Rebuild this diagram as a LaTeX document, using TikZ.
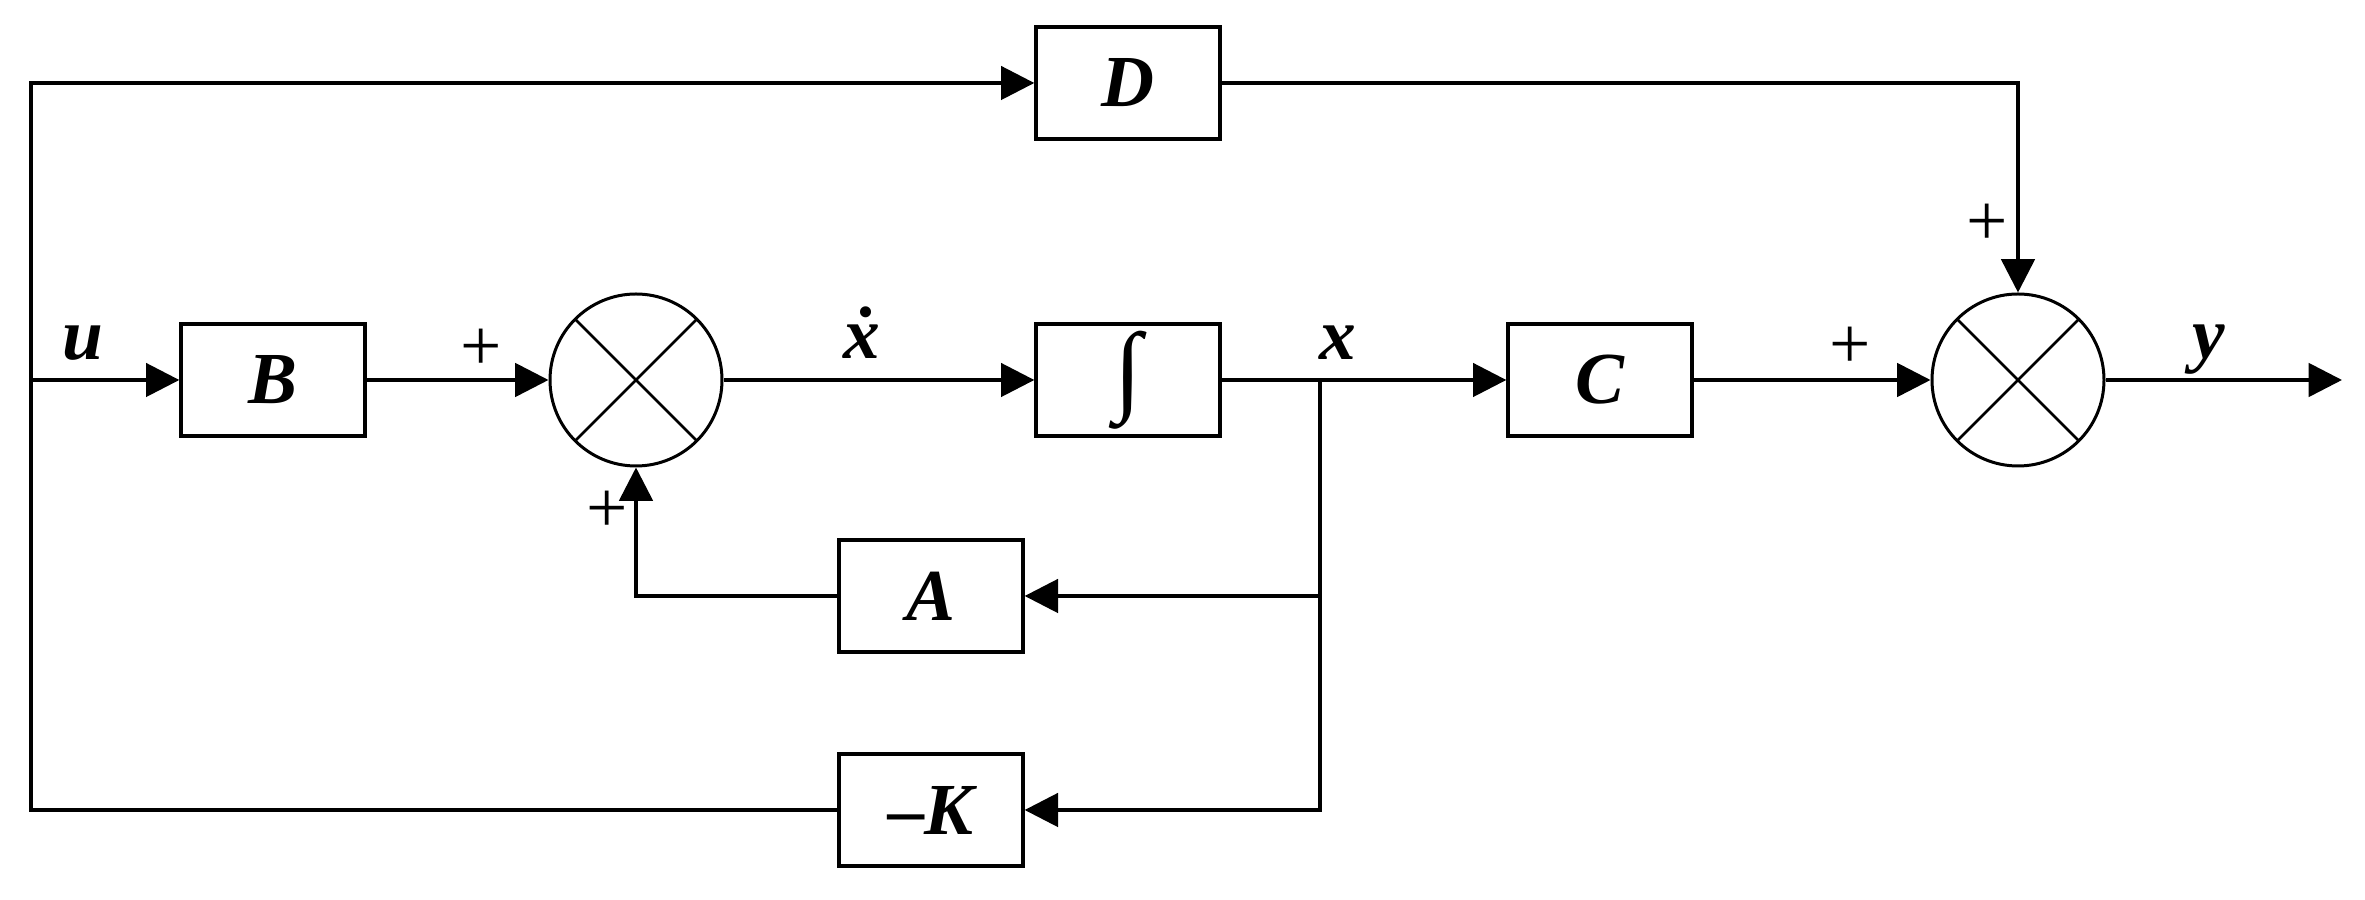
\documentclass[tikz,border=0pt]{standalone}
\usepackage{fontspec}
\setmainfont{Liberation Serif}
\usetikzlibrary{arrows.meta}
\tikzset{
  blk/.style={draw, line width=1pt, minimum width=55.2pt, minimum height=33.6pt, inner sep=0pt, font=\fontsize{22}{26}\selectfont\bfseries\itshape},
  sumj/.style={draw, circle, line width=0.9pt, minimum size=51.6pt, inner sep=0pt,
    path picture={\draw[line width=0.8pt] (path picture bounding box.north west) -- (path picture bounding box.south east)
      (path picture bounding box.north east) -- (path picture bounding box.south west);}},
  sig/.style={line width=1.1pt, line join=miter},
  arr/.style={sig, -{Triangle[length=10pt,width=10pt]}},
  lbl/.style={font=\fontsize{22}{26}\selectfont\bfseries\itshape, inner sep=0pt},
  pls/.style={font=\fontsize{22}{26}\selectfont, inner sep=0pt}
}
\begin{document}
\begin{tikzpicture}[x=0.3pt,y=-0.3pt]
\useasboundingbox (0,0) rectangle (2365,900);
% blocks
\node[blk] (B) at (273,380) {B};
\node[blk] (D) at (1128,83) {D};
\node[blk] (I) at (1128,380) {\fontsize{30}{32}\selectfont\mdseries\itshape ∫};
\node[blk] (C) at (1600,380) {C};
\node[blk] (A) at (931,596) {A};
\node[blk] (K) at (931,810) {--K};
\node[sumj] (S1) at (636,380) {};
\node[sumj] (S2) at (2018,380) {};
% coordinates
\coordinate (ul) at (31,380);
\coordinate (tl) at (31,83);
\coordinate (bl) at (31,810);
\coordinate (jx) at (1320,380);
\coordinate (ja) at (1320,596);
\coordinate (jk) at (1320,810);
\coordinate (ac) at (636,596);
\coordinate (dc) at (2018,83);
\coordinate (yout) at (2342,380);
% connectors
\draw[arr] (ul) -- (B.west);
\draw[arr] (B.east) -- (S1.west);
\draw[arr] (S1.east) -- (I.west);
\draw[arr] (I.east) -- (C.west);
\draw[arr] (jx) -- (jk) -- (K.east);
\draw[arr] (ja) -- (A.east);
\draw[arr] (A.west) -- (ac) -- (S1.south);
\draw[arr] (K.west) -- (bl) -- (tl) -- (D.west);
\draw[arr] (D.east) -- (dc) -- (S2.north);
\draw[arr] (C.east) -- (S2.west);
\draw[arr] (S2.east) -- (yout);
% labels
\node[lbl] (lu) at (83,343) {u};
\node[lbl] (lxd) at (862,333) {\.{x}};
\node[lbl] (lx) at (1338,343) {x};
\node[lbl] (ly) at (2209,350) {y};
\node[pls] (p1) at (481,350) {+};
\node[pls] (p2) at (607,512) {+};
\node[pls] (p3) at (1850,348) {+};
\node[pls] (p4) at (1987,225) {+};
\end{tikzpicture}
\end{document}
